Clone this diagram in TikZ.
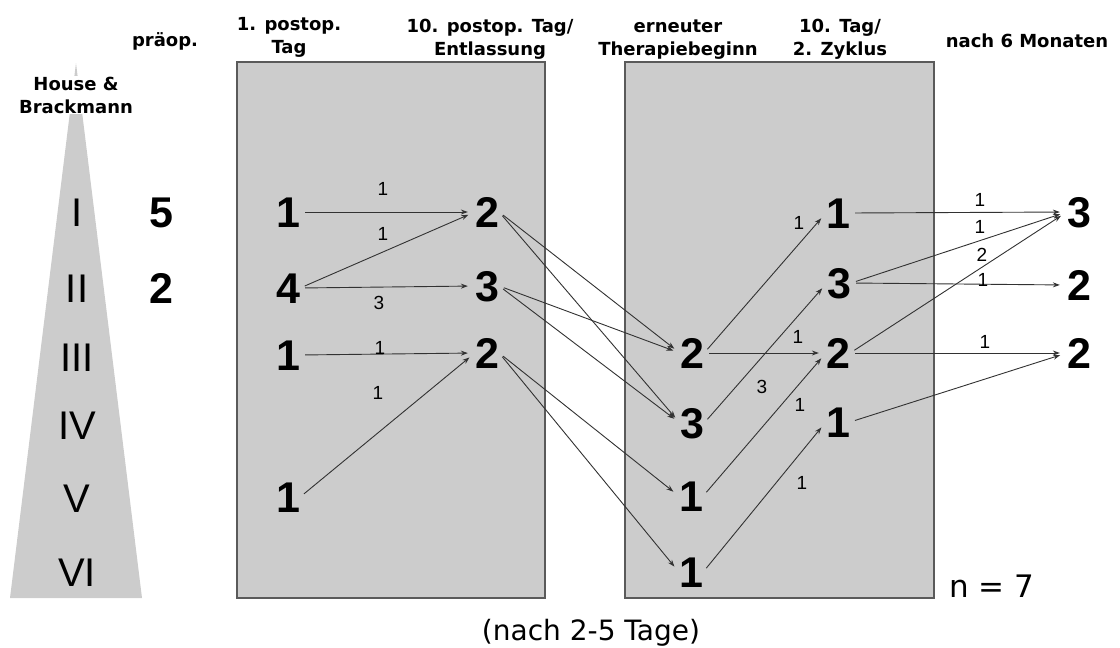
\documentclass[tikz,border=0pt]{standalone}
\usepackage{fontspec}
\setmainfont{DejaVu Sans}
\newfontfamily\arialfont{Liberation Sans}
\usetikzlibrary{arrows.meta}
\definecolor{panelgrey}{RGB}{204,204,204}
\definecolor{edgegrey}{RGB}{90,90,90}
\definecolor{linegrey}{RGB}{50,50,50}
\tikzset{
  bignum/.style={font=\arialfont\bfseries\fontsize{43}{43}\selectfont, inner sep=0pt, text height=30.8pt, text depth=0pt},
  roman/.style={font=\arialfont\fontsize{40}{40}\selectfont, inner sep=0pt, text height=28.6pt, text depth=0pt},
  small/.style={font=\arialfont\fontsize{19}{19}\selectfont, inner sep=0pt},
  head/.style={font=\bfseries\fontsize{18}{23}\selectfont, align=center, inner sep=0pt, anchor=base},
  panel/.style={fill=panelgrey, draw=edgegrey, line width=1.4pt},
  arr/.style={draw=linegrey, line width=0.9pt, -{Stealth[length=7pt,width=5pt]}, shorten <=5pt, shorten >=7pt}
}
\begin{document}
\begin{tikzpicture}[x=1pt,y=-1pt]
\useasboundingbox (0,0) rectangle (1120,648);
% triangle
\fill[panelgrey] (10,598) -- (76,63) -- (142,598) -- cycle;
% panels
\draw[panel] (237,62) rectangle (545,598);
\draw[panel] (625,62) rectangle (934,598);
% headers (base = baseline of the last line)
\node[head, fill=white, inner sep=1pt] (hb) at (76,113) {House \&\\Brackmann};
\node[head] (h0) at (165,46) {präop.};
\node[head] (h1) at (289,53) {1. postop.\\Tag};
\node[head] (h2) at (490,55) {10. postop. Tag/\\Entlassung};
\node[head] (h3) at (678,55) {erneuter\\Therapiebeginn};
\node[head] (h4) at (840,55) {10. Tag/\\2. Zyklus};
\node[head] (h5) at (1027,47) {nach 6 Monaten};
% roman numerals
\node[roman] (r1) at (77,212) {I};
\node[roman] (r2) at (77,288) {II};
\node[roman] (r3) at (77,357) {III};
\node[roman] (r4) at (77,425) {IV};
\node[roman] (r5) at (77,498) {V};
\node[roman] (r6) at (77,572) {VI};
% pre-op
\node[bignum] (p1) at (161,212) {5};
\node[bignum] (p2) at (161,288) {2};
% column A
\node[bignum] (a1) at (288,212) {1};
\node[bignum] (a2) at (288,288) {4};
\node[bignum] (a3) at (288,355) {1};
\node[bignum] (a4) at (288,497) {1};
% column B
\node[bignum] (b1) at (487,212) {2};
\node[bignum] (b2) at (487,286) {3};
\node[bignum] (b3) at (487,353) {2};
% column C
\node[bignum] (c1) at (692,353) {2};
\node[bignum] (c2) at (692,423) {3};
\node[bignum] (c3) at (691,496) {1};
\node[bignum] (c4) at (691,572) {1};
% column D
\node[bignum] (d1) at (838,213) {1};
\node[bignum] (d2) at (839,283) {3};
\node[bignum] (d3) at (838,353) {2};
\node[bignum] (d4) at (838,422) {1};
% column E
\node[bignum] (e1) at (1079,212) {3};
\node[bignum] (e2) at (1079,285) {2};
\node[bignum] (e3) at (1079,353) {2};
% connectors
\draw[arr] (a1.east) -- (b1.west);
\draw[arr] (a2.east) -- (b1.west);
\draw[arr] (a2.east) -- (b2.west);
\draw[arr] (a3.east) -- (b3.west);
\draw[arr] (a4.east) -- (b3.west);
\draw[arr] (b1.east) -- (c1.west);
\draw[arr] (b1.east) -- (c2.west);
\draw[arr] (b2.east) -- (c1.west);
\draw[arr] (b2.east) -- (c2.west);
\draw[arr] (b3.east) -- (c3.west);
\draw[arr] (b3.east) -- (c4.west);
\draw[arr] (c1.east) -- (d1.west);
\draw[arr] (c1.east) -- (d3.west);
\draw[arr] (c2.east) -- (d2.west);
\draw[arr] (c3.east) -- (d3.west);
\draw[arr] (c4.east) -- (d4.west);
\draw[arr] (d1.east) -- (e1.west);
\draw[arr] (d2.east) -- (e1.west);
\draw[arr] (d3.east) -- (e1.west);
\draw[arr] (d2.east) -- (e2.west);
\draw[arr] (d3.east) -- (e3.west);
\draw[arr] (d4.east) -- (e3.west);
% labels
\node[small] (l1) at (383,189) {1};
\node[small] (l2) at (383,234) {1};
\node[small] (l3) at (379,303) {3};
\node[small] (l4) at (380,348) {1};
\node[small] (l5) at (378,393) {1};
\node[small] (l6) at (799,223) {1};
\node[small] (l7) at (798,337) {1};
\node[small] (l8) at (762,387) {3};
\node[small] (l9) at (800,405) {1};
\node[small] (l10) at (802,483) {1};
\node[small] (l11) at (980,200) {1};
\node[small] (l12) at (980,227) {1};
\node[small] (l13) at (982,255) {2};
\node[small] (l14) at (983,280) {1};
\node[small] (l15) at (985,342) {1};
% footer
\node[font=\fontsize{31}{31}\selectfont, inner sep=0pt, anchor=base] (n) at (992,597) {n = 7};
\node[font=\fontsize{28}{28}\selectfont, inner sep=0pt, anchor=base] (nach) at (591,640) {(nach 2-5 Tage)};
\end{tikzpicture}
\end{document}
